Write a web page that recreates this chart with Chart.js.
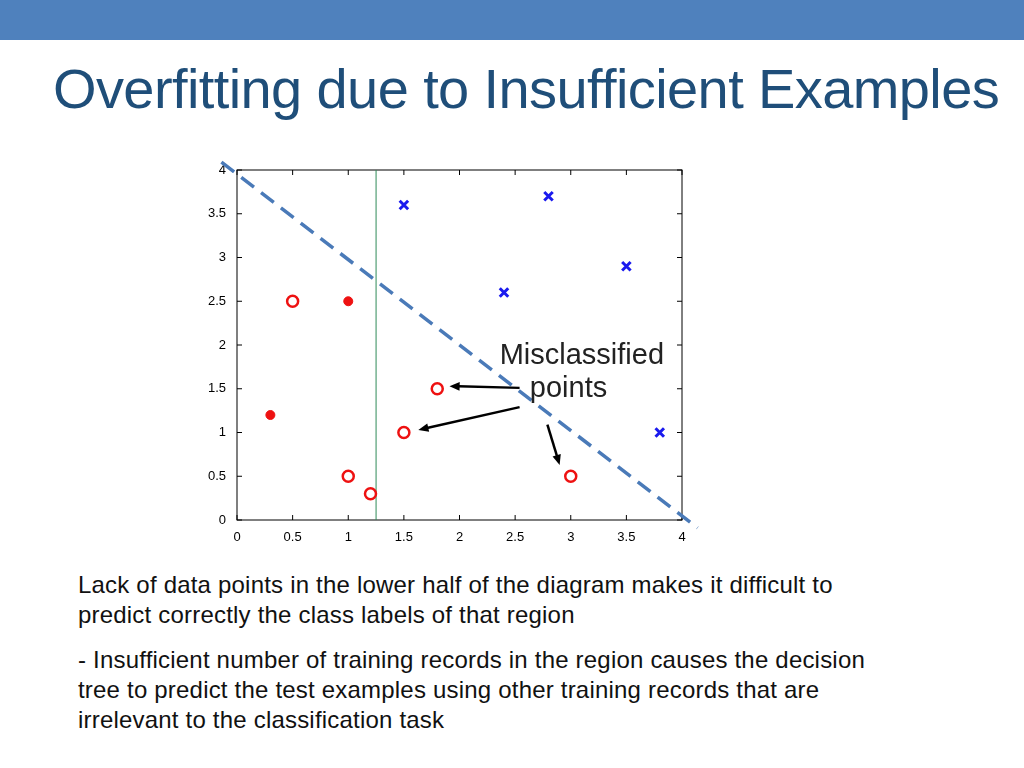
<!DOCTYPE html>
<html><head><meta charset="utf-8">
<script src="https://cdn.jsdelivr.net/npm/chart.js@4"></script>
<style>
body{margin:0;width:1024px;height:768px;background:#fff;position:relative;overflow:hidden;font-family:"Liberation Sans",Arial,sans-serif}
#bar{position:absolute;left:0;top:0;width:1024px;height:40px;background:#4f81bd}
#title{position:absolute;left:53px;top:56px;font-size:56px;color:#1f4e79;white-space:nowrap;letter-spacing:-0.6px}
#cv{position:absolute;left:190px;top:150px}
.t{position:absolute;left:78px;font-size:22px;color:#111;line-height:30px;letter-spacing:0.2px}
</style></head><body>
<div id="bar"></div>
<div id="title">Overfitting due to Insufficient Examples</div>
<canvas id="cv" width="530" height="400"></canvas>
<div class="t" style="top:570px;font-size:24px">Lack of data points in the lower half of the diagram makes it difficult to<br>predict correctly the class labels of that region</div>
<div class="t" style="top:645px;font-size:24px">- Insufficient number of training records in the region causes the decision<br>tree to predict the test examples using other training records that are<br>irrelevant to the classification task</div>
<script>
const openRed = [{x:0.5,y:2.5},{x:1,y:0.5},{x:1.2,y:0.3},{x:1.5,y:1},{x:1.8,y:1.5},{x:3,y:0.5}];
const filledRed = [{x:1,y:2.5},{x:0.3,y:1.2}];
const blueX = [{x:1.5,y:3.6},{x:2.8,y:3.7},{x:2.4,y:2.6},{x:3.5,y:2.9},{x:3.8,y:1}];
const vLine = [{x:1.25,y:0},{x:1.25,y:4}];
const dashLine = [{x:-0.14,y:4.09},{x:4.14,y:-0.09}];
const tickVals = [0,0.5,1,1.5,2,2.5,3,3.5,4];
const tickLabels = ["0","0.5","1","1.5","2","2.5","3","3.5","4"];
const arrows = [[2.54,1.51,1.91,1.53],[2.54,1.29,1.63,1.03],[2.79,1.09,2.9,0.63]];
const labels = [["Misclassified",3.1,1.87],["points",2.98,1.5]];

const deco = {id:'deco',
 beforeDatasetsDraw(c){const a=c.chartArea,ctx=c.ctx,xs=c.scales.x,ys=c.scales.y;
  ctx.save();ctx.strokeStyle='#000';ctx.lineWidth=1;ctx.strokeRect(a.left,a.top,a.right-a.left,a.bottom-a.top);
  ctx.beginPath();tickVals.forEach(v=>{const px=xs.getPixelForValue(v),py=ys.getPixelForValue(v);
   ctx.moveTo(px,a.bottom);ctx.lineTo(px,a.bottom-5);ctx.moveTo(px,a.top);ctx.lineTo(px,a.top+5);
   ctx.moveTo(a.left,py);ctx.lineTo(a.left+5,py);ctx.moveTo(a.right,py);ctx.lineTo(a.right-5,py);});
  ctx.stroke();ctx.restore();},
 afterDatasetsDraw(c){const ctx=c.ctx,xs=c.scales.x,ys=c.scales.y;ctx.save();
  ctx.strokeStyle='#000';ctx.fillStyle='#000';ctx.lineWidth=2.5;
  arrows.forEach(r=>{const x1=xs.getPixelForValue(r[0]),y1=ys.getPixelForValue(r[1]),x2=xs.getPixelForValue(r[2]),y2=ys.getPixelForValue(r[3]);
   const ang=Math.atan2(y2-y1,x2-x1),L=11;
   ctx.beginPath();ctx.moveTo(x1,y1);ctx.lineTo(x2-Math.cos(ang)*L*0.8,y2-Math.sin(ang)*L*0.8);ctx.stroke();
   ctx.beginPath();ctx.moveTo(x2,y2);ctx.lineTo(x2-L*Math.cos(ang-0.4),y2-L*Math.sin(ang-0.4));
   ctx.lineTo(x2-L*Math.cos(ang+0.4),y2-L*Math.sin(ang+0.4));ctx.closePath();ctx.fill();});
  ctx.font='29px "Liberation Sans", Arial';ctx.textAlign='center';ctx.textBaseline='middle';ctx.fillStyle='#222';
  labels.forEach(l=>ctx.fillText(l[0],xs.getPixelForValue(l[1]),ys.getPixelForValue(l[2])));
  ctx.restore();}};

new Chart(document.getElementById('cv'),{type:'scatter',
 data:{datasets:[
  {data:openRed,pointStyle:'circle',pointRadius:5.5,borderColor:'#ee1111',backgroundColor:'rgba(0,0,0,0)',borderWidth:2.5},
  {data:filledRed,pointStyle:'circle',pointRadius:4.5,borderColor:'#ee1111',backgroundColor:'#ee1111',borderWidth:1},
  {data:blueX,pointStyle:'crossRot',pointRadius:6,borderColor:'#1a1aee',borderWidth:3},
  {data:vLine,showLine:true,pointRadius:0,borderColor:'#2e8b57',borderWidth:1},
  {data:dashLine,showLine:true,pointRadius:0,borderColor:'#4a7ab8',borderWidth:3.5,borderDash:[16,9],clip:false}
 ]},
 options:{responsive:false,animation:false,
  layout:{padding:{top:20,right:38,left:0,bottom:0}},
  plugins:{legend:{display:false},tooltip:{enabled:false}},
  scales:{
   x:{min:0,max:4,afterFit(s){s.height=30;},afterBuildTicks(s){s.ticks=tickVals.map(v=>({value:v}));},
      grid:{display:false},border:{display:false},ticks:{color:'#000',font:{size:13,family:'Liberation Sans'},padding:2,maxRotation:0,callback:(v,i)=>tickLabels[i]}},
   y:{min:0,max:4,afterFit(s){s.width=47;},afterBuildTicks(s){s.ticks=tickVals.map(v=>({value:v}));},
      grid:{display:false},border:{display:false},ticks:{color:'#000',font:{size:13,family:'Liberation Sans'},padding:3,callback:(v,i)=>tickLabels[i]}}
  }},
 plugins:[deco]});
</script></body></html>
